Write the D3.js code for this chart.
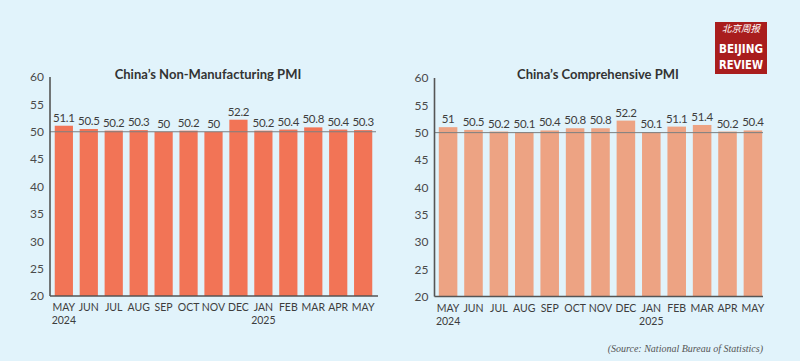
<!DOCTYPE html>
<html><head><meta charset="utf-8">
<script src="https://cdn.jsdelivr.net/npm/d3@7"></script>
<style>
html,body{margin:0;padding:0;background:#e1f3fb;}
svg{display:block;}
</style></head>
<body>
<svg id="c" width="800" height="361"></svg>
<script>
const months = ["MAY","JUN","JUL","AUG","SEP","OCT","NOV","DEC","JAN","FEB","MAR","APR","MAY"];
const years = ["2024","","","","","","","","2025","","","",""];
const nonManufacturing = [51.1,50.5,50.2,50.3,50,50.2,50,52.2,50.2,50.4,50.8,50.4,50.3];
const comprehensive = [51,50.5,50.2,50.1,50.4,50.8,50.8,52.2,50.1,51.1,51.4,50.2,50.4];
const yTicks = [20,25,30,35,40,45,50,55,60];
const titles = ["China\u2019s Non-Manufacturing PMI","China\u2019s Comprehensive PMI"];

const svg = d3.select("#c");
svg.append("rect").attr("width",800).attr("height",361).attr("fill","#e1f3fb");

const font = "Lato, 'Open Sans', sans-serif";

function panel(cfg){
  const g = svg.append("g");
  const y = d3.scaleLinear().domain([20,60]).range([cfg.y20, cfg.y60]);
  const idx = d3.range(months.length);
  const x = d3.scaleBand().domain(idx).range([cfg.x0, cfg.x1]).paddingInner(0.27).paddingOuter(0.15);

  const yAxis = d3.axisLeft(y).tickValues(yTicks).tickSize(0).tickPadding(6);
  const ya = g.append("g").attr("transform",`translate(${cfg.axisX},0)`).call(yAxis);
  ya.select(".domain").remove();
  ya.selectAll("text").attr("font-family",font).attr("font-size",12).attr("fill","#4a4a4a");

  g.selectAll("rect.bar").data(cfg.values).join("rect")
    .attr("class","bar")
    .attr("x",(d,i)=>x(i)).attr("width",x.bandwidth())
    .attr("y",d=>y(d)).attr("height",d=>y(20)-y(d))
    .attr("fill",cfg.color);

  g.append("line").attr("x1",cfg.axisX).attr("x2",cfg.gridEnd)
    .attr("y1",y(50)).attr("y2",y(50)).attr("stroke","#7a7f82").attr("stroke-width",1);

  g.append("line").attr("x1",cfg.axisX).attr("x2",cfg.axisX).attr("y1",y(60)).attr("y2",y(20))
    .attr("stroke","#555").attr("stroke-width",1.6);
  g.append("line").attr("x1",cfg.axisX).attr("x2",cfg.xEnd).attr("y1",y(20)).attr("y2",y(20))
    .attr("stroke","#555").attr("stroke-width",1.6);

  g.selectAll("text.val").data(cfg.values).join("text")
    .attr("class","val")
    .attr("x",(d,i)=>x(i)+x.bandwidth()/2).attr("y",d=>y(d)-4)
    .attr("text-anchor","middle").attr("font-family",font).attr("font-size",11.5)
    .attr("letter-spacing","-0.3")
    .attr("fill","#3d3d3d").text(d=>d);

  g.selectAll("text.mon").data(months).join("text")
    .attr("class","mon")
    .attr("x",(d,i)=>x(i)+x.bandwidth()/2).attr("y",y(20)+15)
    .attr("text-anchor","middle").attr("font-family",font).attr("font-size",10.5)
    .attr("fill","#3d3d3d").text(d=>d);
  g.selectAll("text.yr").data(years).join("text")
    .attr("class","yr")
    .attr("x",(d,i)=>x(i)+x.bandwidth()/2).attr("y",y(20)+28)
    .attr("text-anchor","middle").attr("font-family",font).attr("font-size",10.5)
    .attr("fill","#3d3d3d").text(d=>d);

  g.append("text").attr("x",cfg.titleX).attr("y",79).attr("text-anchor","middle")
    .attr("font-family",font).attr("font-weight","bold").attr("font-size",13)
    .attr("fill","#333").text(cfg.title);
}

panel({values:nonManufacturing,color:"#f27456",axisX:50,x0:51,x1:376,xEnd:378,gridEnd:376,
  y20:296,y60:77,title:titles[0],titleX:208});
panel({values:comprehensive,color:"#eda383",axisX:434.5,x0:435,x1:766,xEnd:763,gridEnd:763,
  y20:296.5,y60:78,title:titles[1],titleX:598});

svg.append("text").attr("x",763).attr("y",352).attr("text-anchor","end")
  .attr("font-family","'Liberation Serif', 'DejaVu Serif', serif").attr("font-style","italic")
  .attr("font-size",10).attr("fill","#555").text("(Source: National Bureau of Statistics)");

const logo = svg.append("g");
logo.append("rect").attr("x",715).attr("y",22).attr("width",52).attr("height",52).attr("fill","#a91d1d");
logo.append("text").attr("x",741).attr("y",32).attr("text-anchor","middle")
  .attr("font-family","'Noto Sans CJK SC', sans-serif").attr("font-size",9.5).attr("fill","#fff")
  .attr("font-style","italic").text("北京周报");
logo.append("text").attr("x",741).attr("y",53).attr("text-anchor","middle")
  .attr("font-family","'Liberation Sans Narrow', 'DejaVu Sans Condensed', sans-serif")
  .attr("font-weight","bold").attr("font-size",13).attr("textLength",44).attr("lengthAdjust","spacingAndGlyphs")
  .attr("fill","#fff").text("BEIJING");
logo.append("text").attr("x",741).attr("y",69).attr("text-anchor","middle")
  .attr("font-family","'Liberation Sans Narrow', 'DejaVu Sans Condensed', sans-serif")
  .attr("font-weight","bold").attr("font-size",13).attr("textLength",44).attr("lengthAdjust","spacingAndGlyphs")
  .attr("fill","#fff").text("REVIEW");
</script>
</body></html>
